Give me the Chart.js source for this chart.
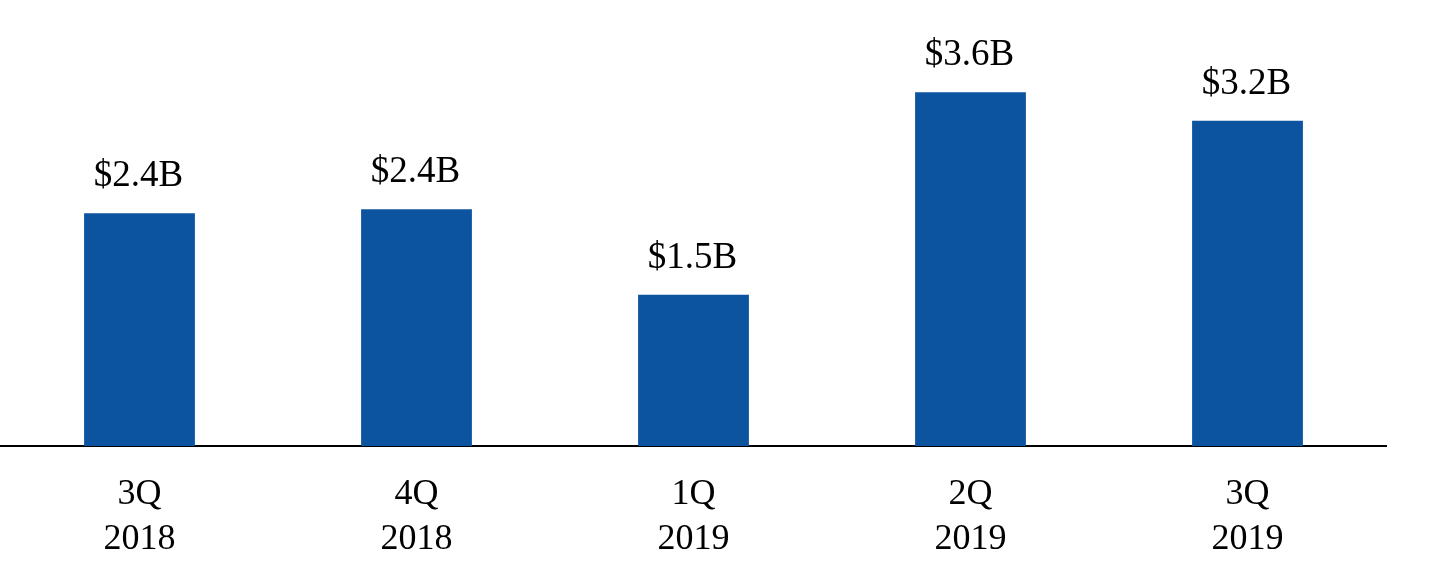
<!DOCTYPE html>
<html>
<head>
<meta charset="utf-8">
<script src="https://cdn.jsdelivr.net/npm/chart.js@4/dist/chart.umd.min.js"></script>
<style>
  html, body { margin: 0; padding: 0; background: #fff; }
  #wrap { width: 1451px; height: 563px; }
</style>
</head>
<body>
<div id="wrap"><canvas id="chart"></canvas></div>
<script>
// Quarterly values in $B and the printed labels
const quarters = [['3Q', '2018'], ['4Q', '2018'], ['1Q', '2019'], ['2Q', '2019'], ['3Q', '2019']];
const amounts = [2.37, 2.41, 1.54, 3.60, 3.31];
const amountLabels = ['$2.4B', '$2.4B', '$1.5B', '$3.6B', '$3.2B'];

const serif = "'Liberation Serif', 'Times New Roman', serif";

// draws the "$x.xB" text above each bar
const barLabels = {
  id: 'barLabels',
  afterDatasetsDraw(chart) {
    const ctx = chart.ctx;
    const meta = chart.getDatasetMeta(0);
    ctx.save();
    ctx.font = '37px ' + serif;
    ctx.fillStyle = '#000';
    ctx.textAlign = 'center';
    ctx.textBaseline = 'alphabetic';
    meta.data.forEach((bar, i) => {
      ctx.fillText(amountLabels[i], bar.x - 1, bar.y - 27);
    });
    ctx.restore();
  }
};

new Chart(document.getElementById('chart'), {
  type: 'bar',
  data: {
    labels: quarters,
    datasets: [{
      data: amounts,
      backgroundColor: '#0C53A0',
      borderWidth: 0,
      barPercentage: 0.4,
      categoryPercentage: 1.0
    }]
  },
  options: {
    responsive: true,
    maintainAspectRatio: false,
    animation: false,
    layout: { padding: { left: 1, right: 65, top: 0, bottom: 2 } },
    plugins: {
      legend: { display: false },
      tooltip: { enabled: false }
    },
    scales: {
      x: {
        grid: { display: false, drawTicks: false },
        border: { display: true, color: '#000', width: 2 },
        ticks: {
          color: '#000',
          padding: 26,
          maxRotation: 0,
          font: { family: serif, size: 36, lineHeight: 1.25 }
        },
        afterFit(scale) { scale.height = 115; }
      },
      y: {
        display: false,
        min: 0,
        max: 4.54
      }
    }
  },
  plugins: [barLabels]
});
</script>
</body>
</html>
